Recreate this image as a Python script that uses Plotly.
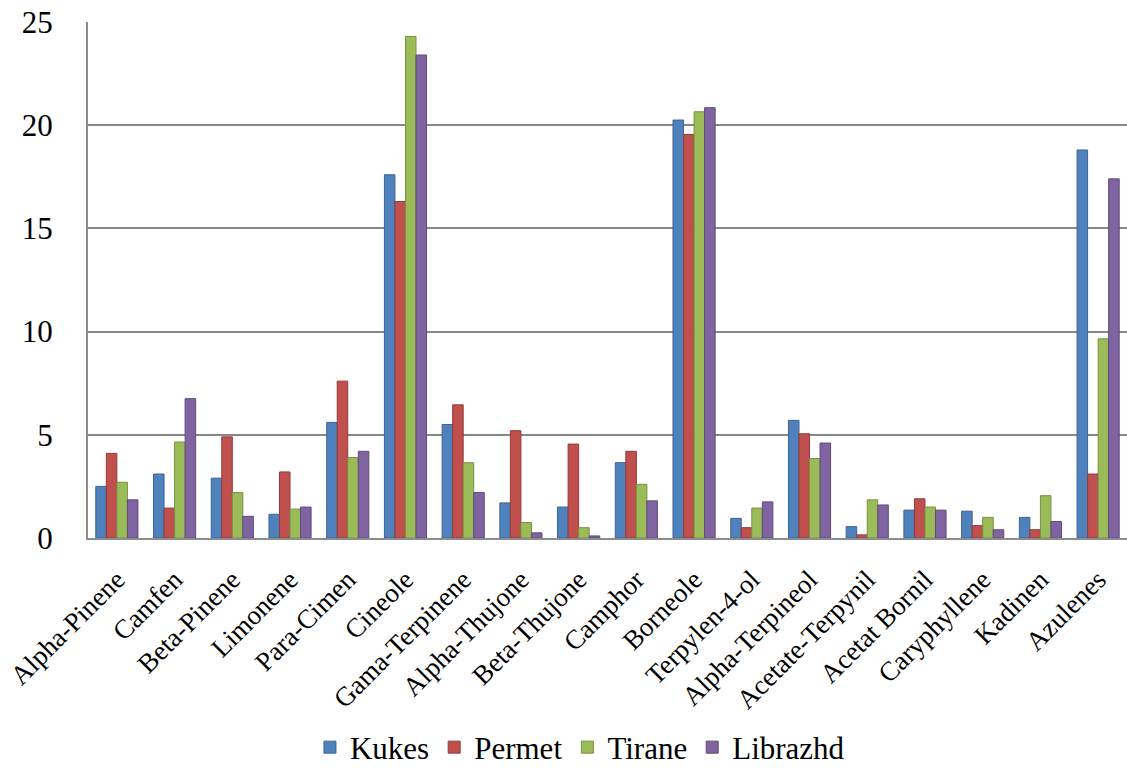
import plotly.graph_objects as go

categories = ["Alpha-Pinene", "Camfen", "Beta-Pinene", "Limonene", "Para-Cimen", "Cineole",
              "Gama-Terpinene", "Alpha-Thujone", "Beta-Thujone", "Camphor", "Borneole",
              "Terpylen-4-ol", "Alpha-Terpineol", "Acetate-Terpynil", "Acetat Bornil",
              "Caryphyllene", "Kadinen", "Azulenes"]

kukes = [2.5, 3.1, 2.9, 1.15, 5.6, 17.6, 5.5, 1.7, 1.5, 3.65, 20.25, 0.95, 5.7, 0.55, 1.35, 1.3, 1.0, 18.8]
permet = [4.1, 1.45, 4.9, 3.2, 7.6, 16.3, 6.45, 5.2, 4.55, 4.2, 19.55, 0.5, 5.05, 0.15, 1.9, 0.6, 0.4, 3.1]
tirane = [2.7, 4.65, 2.2, 1.4, 3.9, 24.3, 3.65, 0.75, 0.5, 2.6, 20.65, 1.45, 3.85, 1.85, 1.5, 1.0, 2.05, 9.65]
librazhd = [1.85, 6.75, 1.05, 1.5, 4.2, 23.4, 2.2, 0.25, 0.1, 1.8, 20.85, 1.75, 4.6, 1.6, 1.35, 0.4, 0.8, 17.4]

series = [("Kukes", kukes, "#4F81BD", "#3A6595"),
          ("Permet", permet, "#C0504D", "#933B39"),
          ("Tirane", tirane, "#9BBB59", "#78923F"),
          ("Librazhd", librazhd, "#8064A2", "#5F4A7A")]

y_ticks = [0, 5, 10, 15, 20, 25]

FONT = "Liberation Serif"

fig = go.Figure()
for name, vals, col, edge in series:
    fig.add_trace(go.Bar(name=name, x=categories, y=vals,
                         marker=dict(color=col, line=dict(color=edge, width=1))))

fig.update_layout(
    width=1127, height=775,
    barmode="group", bargap=0.27, bargroupgap=0.0,
    plot_bgcolor="white", paper_bgcolor="white",
    margin=dict(l=88, r=0, t=22, b=228),
    font=dict(family=FONT, color="black", size=27),
    showlegend=True,
    legend=dict(orientation="h", x=0.4735, xanchor="center", y=-0.406, yanchor="middle",
                font=dict(family=FONT, color="black", size=31), traceorder="normal",
                itemwidth=30),
    xaxis=dict(showgrid=False, showline=True, linecolor="#8C8C8C", linewidth=2,
               tickangle=-45, tickfont=dict(family=FONT, color="black", size=27),
               ticks="", ticklabelstandoff=13),
    yaxis=dict(range=[0, 25], tickvals=y_ticks, ticktext=[str(v) for v in y_ticks],
               showgrid=True, gridcolor="#878787",
               gridwidth=2, showline=True, linecolor="#8C8C8C", linewidth=2,
               tickfont=dict(family=FONT, color="black", size=31), ticks="",
               ticklabelstandoff=27, zeroline=False),
)

fig.write_html("out.html")
